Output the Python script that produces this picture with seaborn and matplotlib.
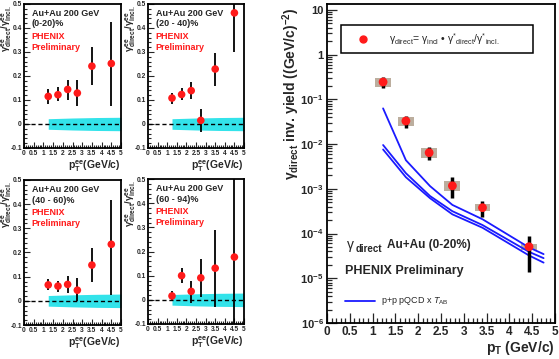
import numpy as np
import pandas as pd
import matplotlib
matplotlib.use("Agg")
import matplotlib.pyplot as plt
import seaborn as sns
from matplotlib.patches import Rectangle
from matplotlib.ticker import MultipleLocator, LogLocator, FuncFormatter, NullFormatter

# ================= DATA: ratio panels =================
pt_ee = [1.25, 1.75, 2.25, 2.75, 3.5, 4.5]
cent_labels = ["(0-20)%", "(20 - 40)%", "(40 - 60)%", "(60 - 94)%"]

ratio_0_20 = [0.115, 0.122, 0.144, 0.129, 0.241, 0.252]
ratio_0_20_hi = [0.145, 0.154, 0.184, 0.184, 0.320, 0.425]
ratio_0_20_lo = [0.084, 0.094, 0.101, 0.073, 0.162, 0.073]

ratio_20_40 = [0.108, 0.123, 0.139, 0.015, 0.229, 0.463]
ratio_20_40_hi = [0.130, 0.149, 0.177, 0.061, 0.295, 0.620]
ratio_20_40_lo = [0.084, 0.099, 0.105, -0.032, 0.160, 0.302]

ratio_40_60 = [0.066, 0.061, 0.068, 0.044, 0.148, 0.234]
ratio_40_60_hi = [0.089, 0.083, 0.101, 0.094, 0.218, 0.417]
ratio_40_60_lo = [0.043, 0.038, 0.032, -0.002, 0.080, 0.025]

ratio_60_94 = [0.016, 0.100, 0.035, 0.091, 0.131, 0.177]
ratio_60_94_hi = [0.038, 0.132, 0.077, 0.171, 0.291, 0.550]
ratio_60_94_lo = [-0.006, 0.070, -0.013, 0.012, -0.031, -0.150]

# systematic band around zero
band_x = [1.25, 2.5, 3.75, 5.0]
band_hw = [0.022, 0.025, 0.027, 0.028]

# ================= DATA: direct photon yield =================
pt_dir = [1.23, 1.73, 2.24, 2.75, 3.41, 4.43]
yield_dir = [0.245, 0.0329, 0.00643, 0.00117, 3.79e-4, 5.08e-5]
yield_hi = [0.317, 0.0425, 0.00877, 0.00187, 5.35e-4, 8.95e-5]
yield_lo = [0.180, 0.0229, 0.00442, 6.34e-4, 2.38e-4, 1.40e-5]
sys_hi = [0.301, 0.0411, 0.00807, 0.0015, 4.51e-4, 5.83e-5]
sys_lo = [0.190, 0.0255, 0.00498, 8.95e-4, 3.19e-4, 4.29e-5]

pqcd_pt = [1.23, 1.73, 2.26, 2.75, 3.41, 4.43, 4.75]
pqcd_hi = [0.063, 0.00437, 0.00115, 4.37e-4, 2.09e-4, 4.9e-5, 3.47e-5]
pqcd_mid = [0.00955, 0.00224, 6.9e-4, 3.16e-4, 1.55e-4, 3.9e-5, 2.82e-5]
pqcd_lo = [0.00759, 0.00182, 6.17e-4, 2.69e-4, 1.35e-4, 3.24e-5, 2.24e-5]

# ================= STYLE =================
sns.set_theme(style="ticks")
plt.rcParams['font.family'] = ['Liberation Sans', 'DejaVu Sans']
plt.rcParams['mathtext.fontset'] = 'custom'
plt.rcParams['mathtext.rm'] = 'Liberation Sans'
plt.rcParams['mathtext.it'] = 'Liberation Sans:italic'
plt.rcParams['mathtext.bf'] = 'Liberation Sans:bold'
plt.rcParams['mathtext.default'] = 'regular'

RED = "#ff1a1a"
CYAN = "#33e3ea"
BOXC = "#bcae9e"
BLUE = "#1a1aff"

fig = plt.figure(figsize=(5.59, 3.59), dpi=100)
W, H = 559, 359


def px_axes(x0, y0, x1, y1):
    return fig.add_axes([x0 / W, 1 - y1 / H, (x1 - x0) / W, (y1 - y0) / H])


gfmt = FuncFormatter(lambda v, p: "%g" % round(v, 3))

# ================= RATIO PANELS =================
panels = [
    (px_axes(24, 4, 121, 148), ratio_0_20, ratio_0_20_lo, ratio_0_20_hi, 6.5, 166),
    (px_axes(148, 4, 244, 148), ratio_20_40, ratio_20_40_lo, ratio_20_40_hi, 130.5, 166),
    (px_axes(24, 180, 121, 325), ratio_40_60, ratio_40_60_lo, ratio_40_60_hi, 6.5, 343),
    (px_axes(148, 179, 244, 324), ratio_60_94, ratio_60_94_lo, ratio_60_94_hi, 130.5, 342),
]

for i, (ax, vals, lo, hi, ylx, xly) in enumerate(panels):
    hw = np.array(band_hw)
    ax.fill_between(band_x, -hw, hw, color=CYAN, lw=0, zorder=1)
    ax.axhline(0, color="black", ls=(0, (3, 2)), lw=1, zorder=2)
    v = np.array(vals)
    ax.errorbar(pt_ee, v, yerr=[v - np.array(lo), np.array(hi) - v],
                fmt="none", ecolor="black", elinewidth=1.3, capsize=0, zorder=3)
    df = pd.DataFrame({"pt": pt_ee, "r": vals})
    sns.scatterplot(data=df, x="pt", y="r", ax=ax, color=RED, s=30,
                    edgecolor="none", zorder=4)
    ax.set_xlim(0, 5)
    ax.set_ylim(-0.1, 0.5)
    ax.set_xlabel("")
    ax.set_ylabel("")
    ax.xaxis.set_major_locator(MultipleLocator(0.5))
    ax.xaxis.set_minor_locator(MultipleLocator(0.1))
    ax.yaxis.set_major_locator(MultipleLocator(0.1))
    ax.yaxis.set_minor_locator(MultipleLocator(0.02))
    ax.xaxis.set_major_formatter(gfmt)
    ax.yaxis.set_major_formatter(gfmt)
    ax.tick_params(which="both", direction="in", labelsize=4.8, pad=1.5, width=0.8)
    ax.tick_params(which="major", length=4)
    ax.tick_params(which="minor", length=2)
    for lab in ax.get_xticklabels() + ax.get_yticklabels():
        lab.set_fontweight("bold")
    for s in ax.spines.values():
        s.set_linewidth(1.3)
        s.set_color("black")

    ax.text(0.08, 0.935, "Au+Au 200 GeV", transform=ax.transAxes, fontsize=6.5,
            fontweight="bold", va="center")
    ax.text(0.08, 0.862, cent_labels[i], transform=ax.transAxes, fontsize=6.5,
            fontweight="bold", va="center")
    ax.text(0.08, 0.775, "PHENIX", transform=ax.transAxes, fontsize=6.5,
            fontweight="bold", color=RED, va="center")
    ax.text(0.08, 0.70, "Preliminary", transform=ax.transAxes, fontsize=6.5,
            fontweight="bold", color=RED, va="center")

    top = ax.get_position().y1
    fig.text(ylx / W, top - 0.005, r"γ$^{ee}_{direct}$/γ$^{ee}_{incl.}$",
             rotation=90, ha="center", va="top", fontsize=6.8, fontweight="bold")
    right = ax.get_position().x1
    fig.text(right, 1 - xly / H, r"p$_T^{ee}$(GeV/c)", ha="right", va="center",
             fontsize=7.5, fontweight="bold")

# ================= DIRECT PHOTON YIELD =================
ax = px_axes(327, 4, 555, 323)
ax.set_yscale("log")

for x, l, h in zip(pt_dir, sys_lo, sys_hi):
    ax.add_patch(Rectangle((x - 0.175, l), 0.35, h - l, color=BOXC, lw=0, zorder=1))

curves = pd.DataFrame({
    "pt": pqcd_pt * 3,
    "y": pqcd_hi + pqcd_mid + pqcd_lo,
    "band": ["hi"] * len(pqcd_pt) + ["mid"] * len(pqcd_pt) + ["lo"] * len(pqcd_pt),
})
for name, grp in curves.groupby("band"):
    sns.lineplot(data=grp, x="pt", y="y", ax=ax, color=BLUE, lw=1.3,
                 sort=False, estimator=None, zorder=2)

yd = np.array(yield_dir)
ax.errorbar(pt_dir, yd, yerr=[yd - np.array(yield_lo), np.array(yield_hi) - yd],
            fmt="none", ecolor="black", elinewidth=2.5, capsize=0, zorder=3)
sns.scatterplot(x=pt_dir, y=yield_dir, ax=ax, color=RED, s=40,
                edgecolor="none", zorder=4)

ax.set_xlim(0, 5)
ax.set_ylim(1e-6, 13.6)
ax.set_xlabel("")
ax.set_ylabel("")
ax.xaxis.set_major_locator(MultipleLocator(0.5))
ax.xaxis.set_minor_locator(MultipleLocator(0.1))
ax.xaxis.set_major_formatter(gfmt)
ax.yaxis.set_major_locator(LogLocator(base=10, numticks=20))
ax.yaxis.set_minor_locator(LogLocator(base=10, subs=np.arange(2, 10), numticks=100))
ax.yaxis.set_minor_formatter(NullFormatter())


def logfmt(v, p):
    e = int(round(np.log10(v)))
    if e == 1:
        return "10"
    if e == 0:
        return "1"
    return r"10$^{%d}$" % e


ax.yaxis.set_major_formatter(FuncFormatter(logfmt))
ax.tick_params(which="both", direction="in", labelsize=8, pad=2.5, width=0.9)
ax.tick_params(axis="x", labelsize=8.5)
ax.tick_params(which="major", length=7)
ax.tick_params(which="minor", length=3.5)
for lab in ax.get_xticklabels() + ax.get_yticklabels():
    lab.set_fontweight("bold")
for s in ax.spines.values():
    s.set_linewidth(1.3)
    s.set_color("black")

# legend box at top
ax.add_patch(Rectangle((0.06, 0.845), 0.845, 0.089, transform=ax.transAxes,
                       fill=False, ec="black", lw=1.1, zorder=5))
ax.plot([0.157], [0.889], "o", color=RED, ms=5, transform=ax.transAxes, zorder=6)
ax.text(0.272, 0.889, r"γ$_{direct}$= γ$_{incl}$ • γ$^{*}$$_{direct}$/γ$^{*}$$_{incl.}$",
        transform=ax.transAxes, fontsize=7.5, va="center", zorder=6)

# annotations
ax.text(0.086, 0.2445, r"γ", transform=ax.transAxes, fontsize=10, va="center")
ax.text(0.125, 0.232, "direct", transform=ax.transAxes, fontsize=7,
        fontweight="bold", va="center")
ax.text(0.262, 0.2445, "Au+Au (0-20%)", transform=ax.transAxes, fontsize=8.5,
        fontweight="bold", va="center")
ax.text(0.079, 0.163, "PHENIX Preliminary", transform=ax.transAxes, fontsize=9,
        fontweight="bold", va="center")
ax.plot([0.079, 0.21], [0.070, 0.070], color=BLUE, lw=1.3, transform=ax.transAxes)
ax.text(0.235, 0.070, r"p+p pQCD x $\mathit{T}_{AB}$", transform=ax.transAxes,
        fontsize=6.5, va="center")

fig.text(291 / W, 1 - 8 / H, r"γ$_{direct}$ inv. yield ((GeV/c)$^{-2}$)",
         rotation=90, ha="center", va="top", fontsize=10, fontweight="bold")
fig.text(555 / W, 1 - 348 / H, r"p$_T$ (GeV/c)", ha="right", va="center",
         fontsize=10, fontweight="bold")

fig.savefig("out.png", dpi=100)
plt.close(fig)
